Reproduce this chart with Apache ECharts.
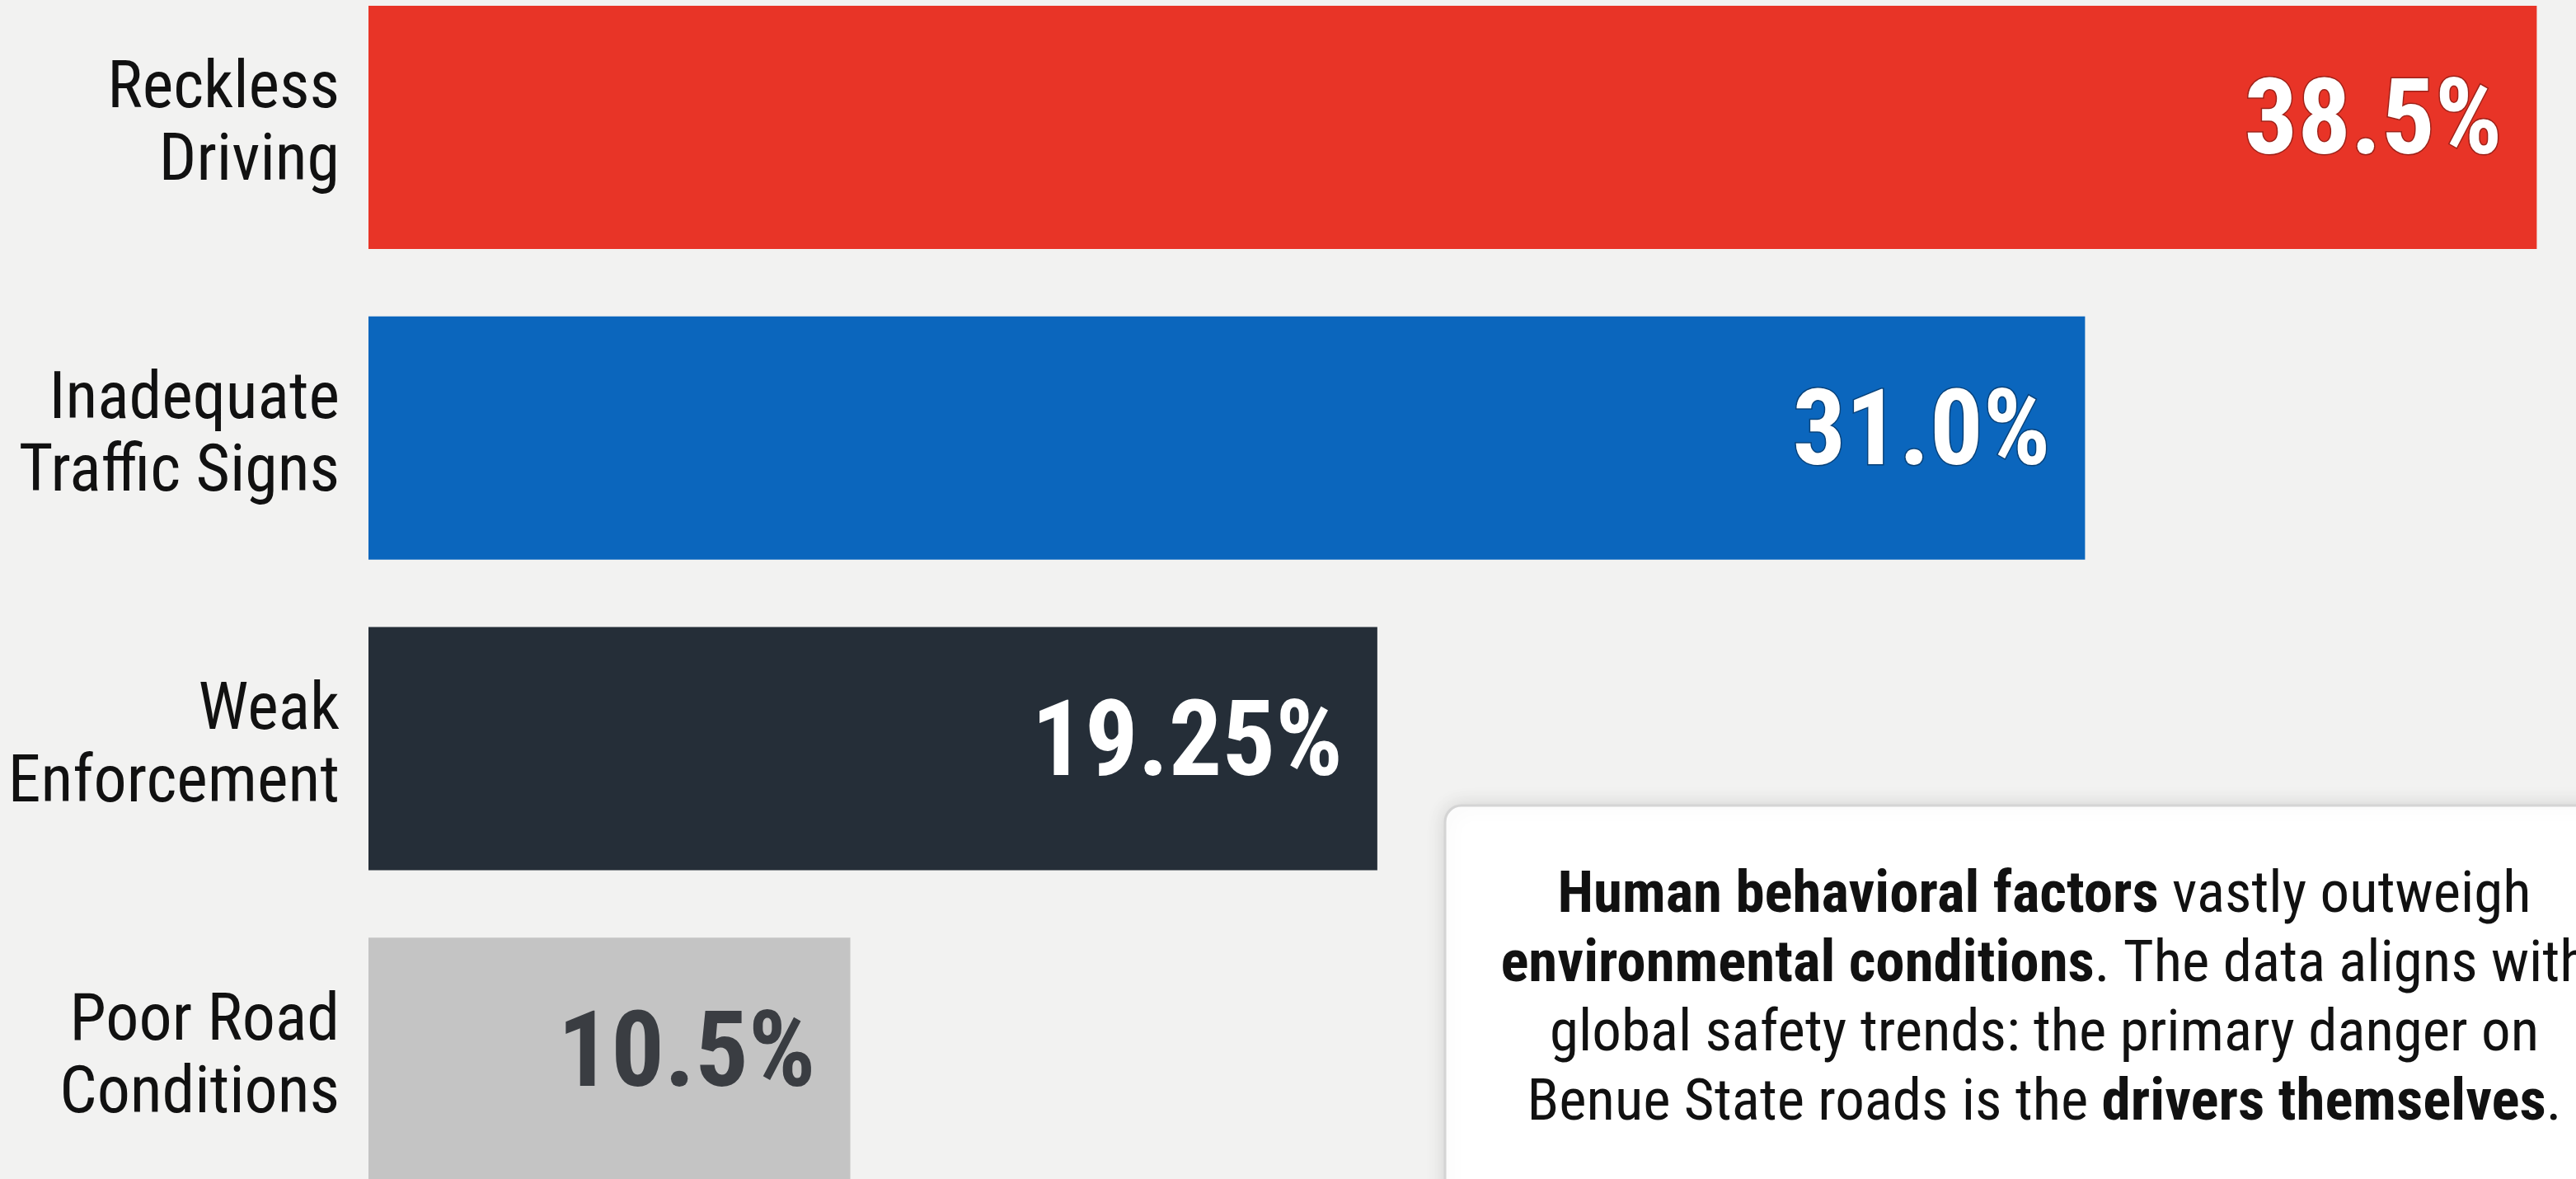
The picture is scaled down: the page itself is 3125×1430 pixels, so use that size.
<!DOCTYPE html>
<html>
<head>
<meta charset="utf-8">
<script src="https://cdn.jsdelivr.net/npm/echarts@6/dist/echarts.min.js"></script>
<style>
  html, body { margin: 0; padding: 0; background: #f2f2f1; }
  #chart { width: 3125px; height: 1430px; }
</style>
</head>
<body>
<div id="chart"></div>
<script>
var categories = ['Reckless\nDriving', 'Inadequate\nTraffic Signs', 'Weak\nEnforcement', 'Poor Road\nConditions']
var values = [38.5, 31.0, 19.25, 10.5]
var valueLabels = ['38.5%', '31.0%', '19.25%', '10.5%']
var barColors = ['#e83427', '#0b66bd', '#252e38', '#c4c4c4']
var labelColors = ['#ffffff', '#ffffff', '#ffffff', '#3a3d42']
var labelBorders = ['#9e2219', '#08427a', 'transparent', 'transparent']

var condensed = '"Roboto Condensed", "Liberation Sans Narrow", "DejaVu Sans Condensed", Roboto, sans-serif'

var myChart = echarts.init(document.getElementById('chart'))

var barData = values.map(function(v, i) {
  return {
    value: v,
    itemStyle: { color: barColors[i] },
    label: {
      color: labelColors[i],
      textBorderColor: labelBorders[i],
      textBorderWidth: labelBorders[i] === 'transparent' ? 0 : 3
    }
  }
})

var option = {
  backgroundColor: '#f2f2f1',
  animation: false,
  grid: {
    left: 447,
    top: -34,
    width: 2740,
    height: 1507,
    containLabel: false,
    outerBoundsMode: 'none'
  },
  xAxis: {
    type: 'value',
    min: 2.5,
    max: 40,
    show: false
  },
  yAxis: {
    type: 'category',
    inverse: true,
    data: categories,
    axisLine: { show: false },
    axisTick: { show: false },
    splitLine: { show: false },
    axisLabel: {
      fontSize: 80,
      lineHeight: 88,
      color: '#111111',
      fontFamily: condensed,
      margin: 35,
      align: 'right'
    }
  },
  series: [{
    type: 'bar',
    barWidth: 295,
    data: barData,
    label: {
      show: true,
      position: 'insideRight',
      distance: 42,
      fontSize: 128,
      fontWeight: 'bold',
      fontFamily: condensed,
      formatter: function(p) { return valueLabels[p.dataIndex] }
    }
  }],
  graphic: [{
    type: 'rect',
    shape: { x: 1753, y: 977, width: 1453, height: 520, r: 20 },
    style: {
      fill: '#ffffff',
      stroke: '#d4d4d4',
      lineWidth: 3,
      shadowBlur: 24,
      shadowColor: 'rgba(0,0,0,0.12)'
    },
    z: 10
  }, {
    type: 'text',
    x: 2480,
    y: 1214,
    z: 11,
    style: {
      text: '{b|Human behavioral factors} vastly outweigh\n' +
            '{b|environmental conditions}. The data aligns with\n' +
            'global safety trends: the primary danger on\n' +
            'Benue State roads is the {b|drivers themselves}.',
      align: 'center',
      verticalAlign: 'middle',
      fontSize: 71,
      lineHeight: 84,
      fontFamily: condensed,
      fill: '#111111',
      rich: {
        b: { fontWeight: 'bold', fontSize: 71, lineHeight: 84, fontFamily: condensed, fill: '#111111' }
      }
    }
  }]
}

myChart.setOption(option)
</script>
</body>
</html>
